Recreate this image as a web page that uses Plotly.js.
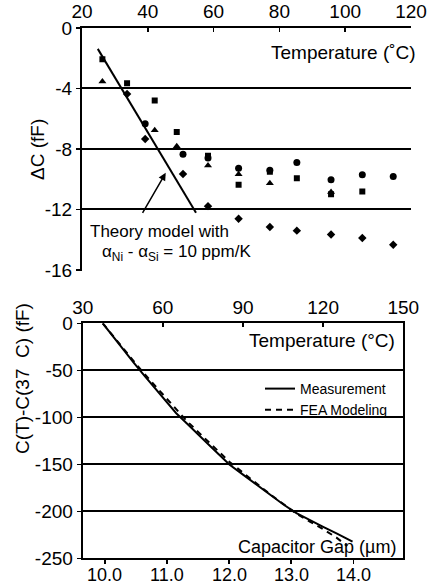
<!DOCTYPE html>
<html>
<head>
<meta charset="utf-8">
<script src="https://cdn.plot.ly/plotly-3.0.1.min.js"></script>
<style>html,body{margin:0;padding:0;background:#fff;}#chart{width:429px;height:584px;}</style>
</head>
<body>
<div id="chart"></div>
<script>
// ---- Top chart data: ΔC (fF) vs Temperature (°C) ----
const circlesT = [39.2, 50.7, 58.3, 67.6, 77.1, 85.3, 95.7, 105.2, 114.6];
const circlesC = [-6.33, -8.35, -8.6, -9.27, -9.4, -8.9, -10.04, -9.71, -9.82];
const squaresT = [26.2, 33.7, 42.1, 48.8, 58.3, 67.6, 77.1, 85.3, 95.7, 105.2];
const squaresC = [-2.06, -3.65, -4.79, -6.88, -8.45, -10.37, -9.5, -9.93, -11.0, -10.81];
const trianglesT = [26.2, 42.1, 48.8, 58.3, 67.6, 77.1, 95.7];
const trianglesC = [-3.54, -6.77, -7.82, -9.1, -9.67, -10.26, -10.85];
const diamondsT = [33.7, 39.2, 50.7, 58.3, 67.6, 77.1, 85.3, 95.7, 105.2, 114.6];
const diamondsC = [-4.37, -7.34, -9.65, -11.78, -12.61, -13.16, -13.4, -13.65, -13.89, -14.33];
const theoryT = [24.8, 54.65];
const theoryC = [-1.38, -12.22];

const topXTicks = [20, 40, 60, 80, 100, 120];
const topYTicks = [0, -4, -8, -12, -16];
const topYLabels = ["0", "-4", "-8", "-12", "-16"];

// ---- Bottom chart data: C(T)-C(37 C) (fF) vs Temperature (°C) ----
const measT = [37.5, 41, 45, 49, 53, 57, 61, 65, 69, 73, 77, 81, 85, 90, 95, 100, 105, 110, 115, 120, 125, 131];
const measC = [0, -13, -27.5, -41.5, -55.5, -69, -82.3, -95.7, -106.5, -118, -128.7, -139.6, -150.5, -161, -171.5, -182, -192.5, -202, -209.5, -216.5, -223.6, -232.2];
const feaT = [37.5, 41, 45, 49, 53, 57, 61, 65, 69, 73, 77, 81, 85, 90, 95, 100, 105, 110, 115, 120, 125, 129];
const feaC = [0, -12.5, -26.5, -40, -53.5, -66, -79, -92, -104, -115, -125.5, -136.5, -147.5, -159, -170.5, -181.5, -192, -202.5, -211, -219, -228, -237];

const botXTicks = [30, 60, 90, 120, 150];
const botYTicks = [0, -50, -100, -150, -200, -250];
const botYLabels = ["0", "-50", "-100", "-150", "-200", "-250"];
const gapTicks = [10, 11, 12, 13, 14];
const gapLabels = ["10.0", "11.0", "12.0", "13.0", "14.0"];
const gapRange = [9.641, 14.805];

const FONT = "Liberation Sans, Arial, sans-serif";
const W = 429, H = 584;
const px = v => v / W;
const py = v => 1 - v / H;

const mk = (sym, size) => ({symbol: sym, size: size, color: "black", line: {width: 0}});

const traces = [
  {x: theoryT, y: theoryC, xaxis: "x", yaxis: "y", mode: "lines", line: {color: "black", width: 2}, showlegend: false, hoverinfo: "skip"},
  {x: circlesT, y: circlesC, xaxis: "x", yaxis: "y", mode: "markers", marker: mk("circle", 7), showlegend: false},
  {x: squaresT, y: squaresC, xaxis: "x", yaxis: "y", mode: "markers", marker: mk("square", 6), showlegend: false},
  {x: trianglesT, y: trianglesC, xaxis: "x", yaxis: "y", mode: "markers", marker: mk("triangle-up", 7), showlegend: false},
  {x: diamondsT, y: diamondsC, xaxis: "x", yaxis: "y", mode: "markers", marker: mk("diamond", 6.5), showlegend: false},
  {x: measT, y: measC, xaxis: "x2", yaxis: "y2", mode: "lines", name: "Measurement", line: {color: "black", width: 2}},
  {x: feaT, y: feaC, xaxis: "x2", yaxis: "y2", mode: "lines", name: "FEA Modeling", line: {color: "black", width: 2, dash: "6px,5px"}},
  // empty trace so that the secondary (capacitor gap) axis is created
  {x: [], y: [], xaxis: "x3", yaxis: "y2", mode: "lines", showlegend: false, hoverinfo: "skip"}
];

const axisBase = {
  showline: true, linecolor: "black", linewidth: 2,
  tickcolor: "black", tickwidth: 1.5, ticklen: 4,
  zeroline: false, tickfont: {family: FONT, size: 19, color: "black"},
  fixedrange: true
};

const gapLabelAnnotations = gapTicks.map((t, i) => ({
  text: gapLabels[i], xref: "x3", yref: "paper", x: t, y: py(575), xanchor: "center", yanchor: "middle",
  showarrow: false, font: {family: FONT, size: 18, color: "black"}
}));

const layout = {
  width: W, height: H,
  margin: {l: 0, r: 0, t: 0, b: 0, pad: 0},
  paper_bgcolor: "white", plot_bgcolor: "white",
  font: {family: FONT, color: "black"},
  showlegend: true,
  legend: {x: px(260), y: py(373), xanchor: "left", yanchor: "top", bgcolor: "rgba(0,0,0,0)",
           font: {family: FONT, size: 14, color: "black"}, tracegroupgap: 0},
  xaxis: Object.assign({}, axisBase, {domain: [px(82), px(411)], range: [20, 120], side: "top", anchor: "y",
           ticks: "inside", showgrid: false, tickvals: topXTicks, ticktext: topXTicks.map(String)}),
  yaxis: Object.assign({}, axisBase, {domain: [1 - 270.7 / H, 1 - 28 / H], range: [-16.05, 0], anchor: "x",
           ticks: "outside", showgrid: true, gridcolor: "black", gridwidth: 2,
           tickvals: topYTicks, ticktext: topYLabels}),
  xaxis2: Object.assign({}, axisBase, {domain: [px(82.7), px(403.3)], range: [30, 150], side: "top", anchor: "y2",
           ticks: "inside", showgrid: false, tickvals: botXTicks, ticktext: botXTicks.map(String)}),
  xaxis3: Object.assign({}, axisBase, {domain: [px(82.7), px(403.3)], range: gapRange, side: "bottom", anchor: "y2",
           overlaying: "x2", ticks: "outside", ticklen: 4, showgrid: false, tickvals: gapTicks, showticklabels: false}),
  yaxis2: Object.assign({}, axisBase, {domain: [1 - 558.3 / H, 1 - 323.3 / H], range: [-250, 0], anchor: "x2",
           mirror: true, ticks: "outside", showgrid: true, gridcolor: "black", gridwidth: 2,
           tickvals: botYTicks, ticktext: botYLabels}),
  annotations: [
    {text: "Temperature (˚C)", xref: "paper", yref: "paper", x: px(418), y: py(53), xanchor: "right", yanchor: "middle",
     showarrow: false, font: {family: FONT, size: 19, color: "black"}},
    {text: "ΔC (fF)", xref: "paper", yref: "paper", x: px(37), y: py(150), xanchor: "center", yanchor: "middle",
     textangle: -90, showarrow: false, font: {family: FONT, size: 19, color: "black"}},
    {text: "Theory model with", xref: "paper", yref: "paper", x: px(159), y: py(231), xanchor: "center", yanchor: "middle",
     showarrow: false, font: {family: FONT, size: 17, color: "black"}},
    {text: "α<sub>Ni</sub> - α<sub>Si</sub> = 10 ppm/K", xref: "paper", yref: "paper", x: px(176), y: py(253),
     xanchor: "center", yanchor: "middle", showarrow: false, font: {family: FONT, size: 17, color: "black"}},
    {text: "", xref: "x", yref: "y", x: 45.44, y: -9.58, axref: "x", ayref: "y", ax: 38.15, ay: -12.33,
     showarrow: true, arrowhead: 2, arrowsize: 1, arrowwidth: 1.5, arrowcolor: "black"},
    {text: "Temperature (°C)", xref: "paper", yref: "paper", x: px(397), y: py(340), xanchor: "right", yanchor: "middle",
     showarrow: false, font: {family: FONT, size: 19, color: "black"}},
    {text: "Capacitor Gap (µm)", xref: "paper", yref: "paper", x: px(398), y: py(547), xanchor: "right", yanchor: "middle",
     showarrow: false, font: {family: FONT, size: 18, color: "black"}},
    {text: "C(T)-C(37  C) (fF)", xref: "paper", yref: "paper", x: px(22), y: py(379), xanchor: "center", yanchor: "middle",
     textangle: -90, showarrow: false, font: {family: FONT, size: 19, color: "black"}}
  ].concat(gapLabelAnnotations)
};

Plotly.newPlot("chart", traces, layout, {staticPlot: true, displayModeBar: false});
</script>
</body>
</html>
